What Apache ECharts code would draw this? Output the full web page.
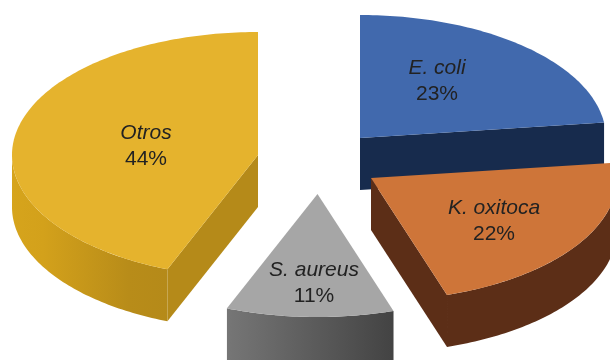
<!DOCTYPE html>
<html><head><meta charset="utf-8">
<style>html,body{margin:0;padding:0;background:#fff}#c{width:610px;height:360px}</style>
<script src="https://cdn.jsdelivr.net/npm/echarts@6/dist/echarts.min.js"></script>
</head><body><div id="c"></div>
<script>
var categories = ['E. coli', 'K. oxitoca', 'S. aureus', 'Otros'];
var values = [23, 22, 11, 44];

var layout = {
  rx: 246, ry: 123, depth: 52,
  centers: [[360, 138], [371, 178], [317.5, 194], [258, 155]],
  labels: [[437, 81], [494, 221], [314, 283], [146, 146]],
  top: ['#4169AD', '#CE7539', '#A6A6A6', '#E5B32D'],
  cut: ['#172B4D', '#5C2E17', '#6E6E6E', '#B58A19'],
  rim: [
    [[0, '#172B4D'], [1, '#172B4D']],
    [[0, '#5C2E17'], [1, '#5C2E17']],
    [[0, '#767676'], [1, '#434343']],
    [[0, '#D6A41C'], [0.2, '#D3A11B'], [0.75, '#B88C19'], [1, '#B58A19']]
  ]
};

var total = values.reduce(function (a, b) { return a + b; }, 0);

function rad(d) { return d * Math.PI / 180; }
function rimPt(c, deg, dy) {
  return [c[0] + layout.rx * Math.sin(rad(deg)), c[1] - layout.ry * Math.cos(rad(deg)) + dy];
}
function arc(c, a, b, dy) {
  var pts = [], n = Math.max(2, Math.ceil(Math.abs(b - a)));
  for (var i = 0; i <= n; i++) pts.push(rimPt(c, a + (b - a) * i / n, dy));
  return pts;
}

function renderItem(params, api) {
  var i = params.dataIndex, v = api.value(1), c = layout.centers[i];
  var before = 0;
  for (var k = 0; k < i; k++) before += values[k];
  var s = before / total * 360, e = (before + v) / total * 360;
  var toPx = function (p) { return api.coord(p); };
  var children = [];
  function poly(pts, fill) {
    children.push({ type: 'polygon', silent: true, shape: { points: pts.map(toPx) },
      style: { fill: fill, stroke: null } });
  }
  var d = layout.depth;
  // cut faces that turn towards the viewer
  if (Math.sin(rad(s)) < -1e-6) {
    var p = rimPt(c, s, 0);
    poly([c, p, [p[0], p[1] + d], [c[0], c[1] + d]], layout.cut[i]);
  }
  if (Math.sin(rad(e)) > 1e-6) {
    var q = rimPt(c, e, 0);
    poly([c, q, [q[0], q[1] + d], [c[0], c[1] + d]], layout.cut[i]);
  }
  // outer wall, front half only
  var a = Math.max(s, 90), b = Math.min(e, 270);
  if (b > a) {
    poly(arc(c, a, b, 0).concat(arc(c, b, a, d)), {
      type: 'linear', x: 0, y: 0, x2: 1, y2: 0,
      colorStops: layout.rim[i].map(function (t) { return { offset: t[0], color: t[1] }; })
    });
  }
  // top face
  poly([c].concat(arc(c, s, e, 0)), layout.top[i]);
  // label
  var lp = api.coord(layout.labels[i]);
  children.push({
    type: 'text', silent: true,
    style: {
      x: lp[0], y: lp[1], align: 'center', verticalAlign: 'middle',
      text: '{n|' + categories[i] + '}\n{p|' + Math.round(v / total * 100) + '%}',
      rich: {
        n: { fontFamily: 'Liberation Sans', fontStyle: 'italic', fontSize: 21, lineHeight: 26, fill: '#222', align: 'center' },
        p: { fontFamily: 'Liberation Sans', fontSize: 21, lineHeight: 26, fill: '#222', align: 'center' }
      }
    }
  });
  return { type: 'group', children: children };
}

var chart = echarts.init(document.getElementById('c'), null, { renderer: 'canvas' });
chart.setOption({
  animation: false,
  backgroundColor: '#fff',
  grid: { left: 0, right: 0, top: 0, bottom: 0 },
  xAxis: { type: 'value', min: 0, max: 610, show: false },
  yAxis: { type: 'value', min: 0, max: 360, inverse: true, show: false },
  series: [{
    type: 'custom',
    coordinateSystem: 'cartesian2d',
    renderItem: renderItem,
    clip: true,
    encode: { x: 0, y: 1 },
    data: values.map(function (v, i) { return [i, v]; })
  }]
});
</script></body></html>
